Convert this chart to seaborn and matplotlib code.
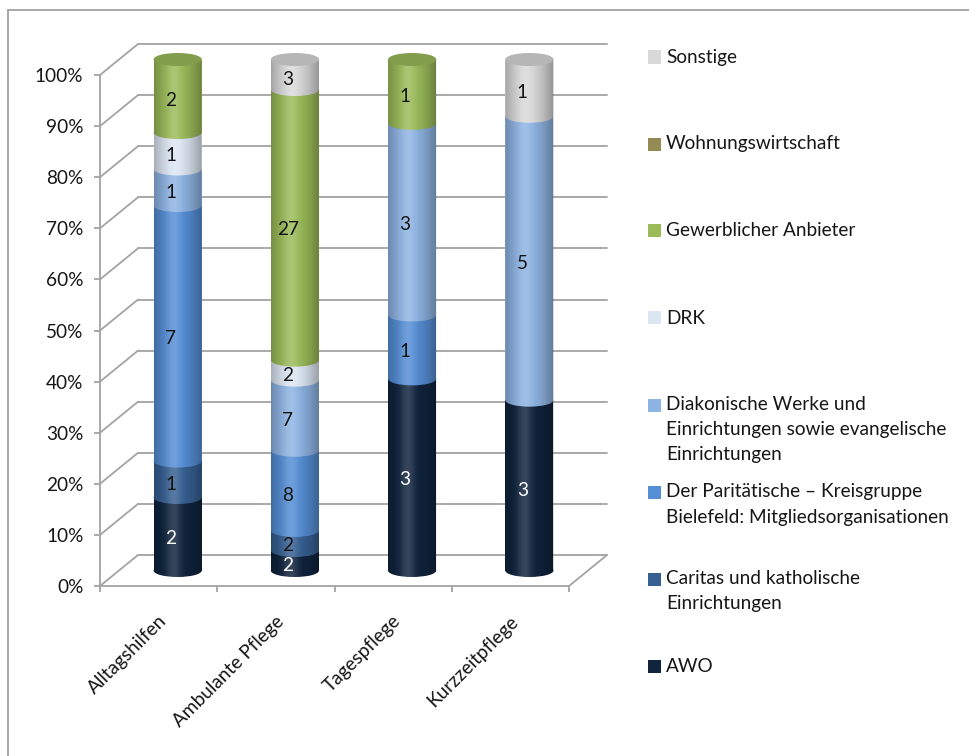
import numpy as np
import matplotlib
matplotlib.use("Agg")
import matplotlib.pyplot as plt
import matplotlib.colors as mcolors
import matplotlib.transforms as mtransforms
from matplotlib.patches import Ellipse, Rectangle, ConnectionPatch
from matplotlib.path import Path
from matplotlib.lines import Line2D
from matplotlib.ticker import PercentFormatter
import seaborn as sns

# ---- data: number of providers per service type and provider group ----
categories = ["Alltagshilfen", "Ambulante Pflege", "Tagespflege", "Kurzzeitpflege"]

awo = [2, 2, 3, 3]
caritas = [1, 2, 0, 0]
paritaetische = [7, 8, 1, 0]
diakonie = [1, 7, 3, 5]
drk = [1, 2, 0, 0]
gewerblich = [2, 27, 1, 0]
wohnungswirtschaft = [0, 0, 0, 0]
sonstige = [0, 3, 0, 1]

series_names = [
    "AWO",
    "Caritas und katholische\nEinrichtungen",
    "Der Paritätische – Kreisgruppe\nBielefeld: Mitgliedsorganisationen",
    "Diakonische Werke und\nEinrichtungen sowie evangelische\nEinrichtungen",
    "DRK",
    "Gewerblicher Anbieter",
    "Wohnungswirtschaft",
    "Sonstige",
]
series_values = [awo, caritas, paritaetische, diakonie, drk,
                 gewerblich, wohnungswirtschaft, sonstige]
series_colors = ["#10243e", "#376092", "#558ed5", "#8eb4e3",
                 "#dce6f2", "#9bbb59", "#948a54", "#d9d9d9"]
value_text_colors = ["white"] + ["#141414"] * 7

# ---- figure / layout (pixel based) ----
W, H, DPI = 969, 756, 100
sns.set_theme(style="white")
plt.rcParams["font.family"] = ["Lato", "DejaVu Sans"]
FS = 13.7
TEXT = "#161616"
GRID = "#a3a3a3"
GRID_LW = 1.3

fig = plt.figure(figsize=(W / DPI, H / DPI), dpi=DPI, facecolor="white")


def box(left, top, right, bottom):
    return [left / W, 1 - bottom / H, (right - left) / W, (bottom - top) / H]


FRONT = (100, 75, 569, 586)     # front plane of the 3-D box
DX, DY = 38, 31                 # depth of the box (right, up)


def shifted(frac):
    l, t, r, b = FRONT
    return box(l + DX * frac, t - DY * frac, r + DX * frac, b - DY * frac)


ax_back = fig.add_axes(shifted(1.0))
ax_cyl = fig.add_axes(shifted(0.5))
ax_front = fig.add_axes(shifted(0.0))

for ax in (ax_back, ax_cyl, ax_front):
    ax.set_xlim(-0.5, len(categories) - 0.5)
    ax.set_ylim(0, 100)
    ax.patch.set_alpha(0)

ax_back.axis("off")
ax_cyl.axis("off")

# back wall gridlines
levels = np.arange(0, 101, 10)
for y in levels:
    ax_back.axhline(y, color=GRID, lw=GRID_LW, clip_on=False)
# left side wall diagonals
for y in levels:
    fig.add_artist(ConnectionPatch(xyA=(-0.5, y), coordsA=ax_front.transData,
                                   xyB=(-0.5, y), coordsB=ax_back.transData,
                                   color=GRID, lw=GRID_LW))
# floor, right edge
fig.add_artist(ConnectionPatch(xyA=(len(categories) - 0.5, 0), coordsA=ax_front.transData,
                               xyB=(len(categories) - 0.5, 0), coordsB=ax_back.transData,
                               color=GRID, lw=GRID_LW))

# ---- stacked 100 % cylinders ----
counts = np.array(series_values, dtype=float)
totals = counts.sum(axis=0)
shares = counts / totals * 100
bottoms = np.vstack([np.zeros(len(categories)), np.cumsum(shares, axis=0)[:-1]])

BAR_W = 0.41
for k in range(len(series_names)):
    sns.barplot(x=categories, y=shares[k], order=categories, bottom=bottoms[k],
                width=BAR_W, color=series_colors[k], saturation=1,
                errorbar=None, linewidth=0, ax=ax_cyl, zorder=1)
ax_cyl.set_xlim(-0.5, len(categories) - 0.5)
ax_cyl.set_ylim(0, 100)
ax_cyl.axis("off")

# vertical half-axis of the elliptical cross-section, in data units
px_per_unit = (FRONT[3] - FRONT[1]) / 100.0
ELL_B = 6.5 / px_per_unit

# segment bottoms drawn as ellipses so boundaries curve round the cylinder
for k in range(len(series_names)):
    for i in range(len(categories)):
        if counts[k, i] <= 0:
            continue
        ax_cyl.add_patch(Ellipse((i, bottoms[k, i]), BAR_W, 2 * ELL_B,
                                 facecolor=series_colors[k], edgecolor="none",
                                 zorder=2, clip_on=False))

# cylindrical shading
t = np.linspace(0, 1, 256)
dark = 0.34 * np.clip(np.abs(t - 0.45) / 0.55, 0, 1) ** 1.7
light = 0.16 * np.exp(-((t - 0.40) / 0.15) ** 2)
dark_img = np.zeros((1, t.size, 4))
dark_img[..., 3] = dark
light_img = np.ones((1, t.size, 4))
light_img[..., 3] = light

for i in range(len(categories)):
    th_lo = np.linspace(np.pi, 2 * np.pi, 60)
    th_hi = np.linspace(0, np.pi, 60)
    xs = np.concatenate([i + BAR_W / 2 * np.cos(th_lo), i + BAR_W / 2 * np.cos(th_hi)])
    ys = np.concatenate([0 + ELL_B * np.sin(th_lo), 100 + ELL_B * np.sin(th_hi)])
    verts = np.column_stack([xs, ys])
    verts = np.vstack([verts, verts[:1]])
    codes = [Path.MOVETO] + [Path.LINETO] * (len(verts) - 2) + [Path.CLOSEPOLY]
    silhouette = Path(verts, codes)
    for img in (dark_img, light_img):
        im = ax_cyl.imshow(img, extent=[i - BAR_W / 2, i + BAR_W / 2, -ELL_B, 100 + ELL_B],
                           aspect="auto", interpolation="bilinear", zorder=3)
        im.set_clip_box(fig.bbox)
        im.set_clip_path(silhouette, ax_cyl.transData)

    # top cap in a darker shade of the uppermost segment
    top_k = max(k for k in range(len(series_names)) if counts[k, i] > 0)
    cap = np.array(mcolors.to_rgb(series_colors[top_k])) * 0.84
    ax_cyl.add_patch(Ellipse((i, 100), BAR_W, 2 * ELL_B, facecolor=cap,
                             edgecolor="none", zorder=4, clip_on=False))

ax_cyl.set_xlim(-0.5, len(categories) - 0.5)
ax_cyl.set_ylim(0, 100)

# value labels
for k in range(len(series_names)):
    for i in range(len(categories)):
        v = counts[k, i]
        if v <= 0:
            continue
        ax_cyl.annotate(f"{int(v)}", xy=(i, bottoms[k, i] + shares[k, i] / 2),
                        xytext=(-7, -5), textcoords="offset pixels",
                        ha="center", va="center", fontsize=FS,
                        color=value_text_colors[k], zorder=6, annotation_clip=False)

# ---- front plane: value axis and category axis ----
for side in ("top", "right"):
    ax_front.spines[side].set_visible(False)
for side in ("left", "bottom"):
    ax_front.spines[side].set_color(GRID)
    ax_front.spines[side].set_linewidth(GRID_LW)

ax_front.set_yticks(levels)
ax_front.yaxis.set_major_formatter(PercentFormatter(decimals=0))
ax_front.tick_params(axis="y", direction="out", length=4, width=GRID_LW, color=GRID,
                     pad=8, labelsize=FS, labelcolor=TEXT, left=True)

ax_front.set_xticks(range(len(categories)))
ax_front.set_xticklabels(categories, rotation=45, ha="right", va="top",
                         rotation_mode="anchor")
ax_front.set_xticks(np.arange(-0.5, len(categories)), minor=True)
ax_front.tick_params(axis="x", which="major", length=0, pad=19, labelsize=FS,
                     labelcolor=TEXT)
ax_front.tick_params(axis="x", which="minor", direction="out", length=4.5,
                     width=GRID_LW, color=GRID, bottom=True)
shift = mtransforms.ScaledTranslation(-1 / DPI, 0, fig.dpi_scale_trans)
for lab in ax_front.get_xticklabels():
    lab.set_transform(lab.get_transform() + shift)
ax_front.grid(False)

# ---- legend on the right ----
LEG_X_BOX, LEG_X_TEXT = 648, 666
LEG_Y0, LEG_STEP, LINE_STEP, BOX = 57, 87, 25, 13
for row, k in enumerate(range(len(series_names) - 1, -1, -1)):
    yc = LEG_Y0 + LEG_STEP * row
    fig.add_artist(Rectangle((LEG_X_BOX / W, 1 - (yc + BOX / 2) / H), BOX / W, BOX / H,
                             transform=fig.transFigure, facecolor=series_colors[k],
                             edgecolor="none"))
    for j, line in enumerate(series_names[k].split("\n")):
        fig.text(LEG_X_TEXT / W, 1 - (yc + 5.5 + LINE_STEP * j) / H, line,
                 ha="left", va="baseline", fontsize=FS, color=TEXT)

# ---- outer frame ----
fig.add_artist(Line2D([8 / W, 8 / W], [0, 1 - 10 / H], transform=fig.transFigure,
                      color="#9a9a9a", lw=1.2))
fig.add_artist(Line2D([8 / W, 1], [1 - 10 / H, 1 - 10 / H], transform=fig.transFigure,
                      color="#9a9a9a", lw=1.2))

fig.savefig("out.png", dpi=DPI, facecolor="white")
